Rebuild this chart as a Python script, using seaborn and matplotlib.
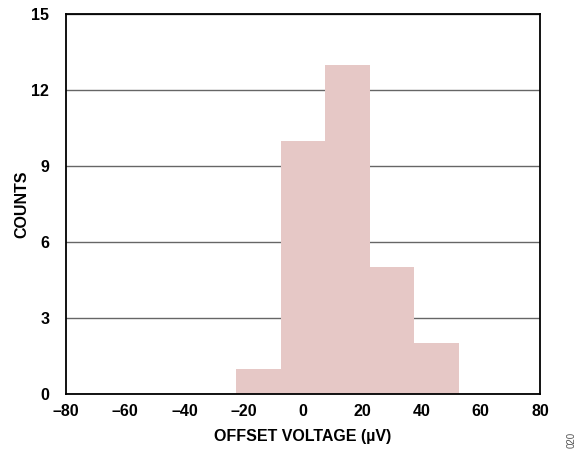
import matplotlib
matplotlib.use("Agg")
import matplotlib.pyplot as plt
import seaborn as sns

# histogram data
bin_centers = [-15, 0, 15, 30, 45]
counts = [1, 10, 13, 5, 2]
bin_edges = [-22.5, -7.5, 7.5, 22.5, 37.5, 52.5]
x_ticks = [-80, -60, -40, -20, 0, 20, 40, 60, 80]
y_ticks = [0, 3, 6, 9, 12, 15]

sns.set_style("white")
plt.rcParams['font.family'] = ['Liberation Sans', 'DejaVu Sans']
plt.rcParams['text.color'] = 'black'
plt.rcParams['axes.labelcolor'] = 'black'
plt.rcParams['xtick.color'] = 'black'
plt.rcParams['ytick.color'] = 'black'

fig = plt.figure(figsize=(5.87, 4.5), dpi=100)
ax = fig.add_axes([66 / 587, 1 - 394 / 450, (540 - 66) / 587, (394 - 14) / 450])

ax.set_axisbelow(True)
ax.yaxis.grid(True, color='#666666', linewidth=1.0)
sns.histplot(x=bin_centers, weights=counts, bins=bin_edges, ax=ax,
             color='#e6c8c6', alpha=1.0, edgecolor='none', linewidth=0)

ax.set_xlim(-80, 80)
ax.set_ylim(0, 15)
ax.set_xticks(x_ticks)
ax.set_xticklabels([str(t).replace('-', '\u2013') for t in x_ticks])
ax.set_yticks(y_ticks)
ax.tick_params(axis='both', length=0, labelsize=11.5)
ax.tick_params(axis='y', pad=12)
ax.tick_params(axis='x', pad=7)
for lab in ax.get_xticklabels() + ax.get_yticklabels():
    lab.set_fontweight('bold')

for s in ax.spines.values():
    s.set_color('#000000')
    s.set_linewidth(1.3)

ax.set_xlabel('OFFSET VOLTAGE (\u00b5V)', fontsize=11.5, fontweight='bold')
ax.set_ylabel('COUNTS', fontsize=11.5, fontweight='bold')
ax.xaxis.set_label_coords(0.5, -(437 - 394) / 380, transform=ax.transAxes)
ax.xaxis.label.set_va('center')
ax.yaxis.set_label_coords(-(66 - 22) / 474, 0.5, transform=ax.transAxes)
ax.yaxis.label.set_va('center')

fig.text(572 / 587, 1 - 440 / 450, '020', rotation=90, fontsize=7,
         color='#555555', ha='center', va='center')

fig.savefig('out.png', dpi=100)
